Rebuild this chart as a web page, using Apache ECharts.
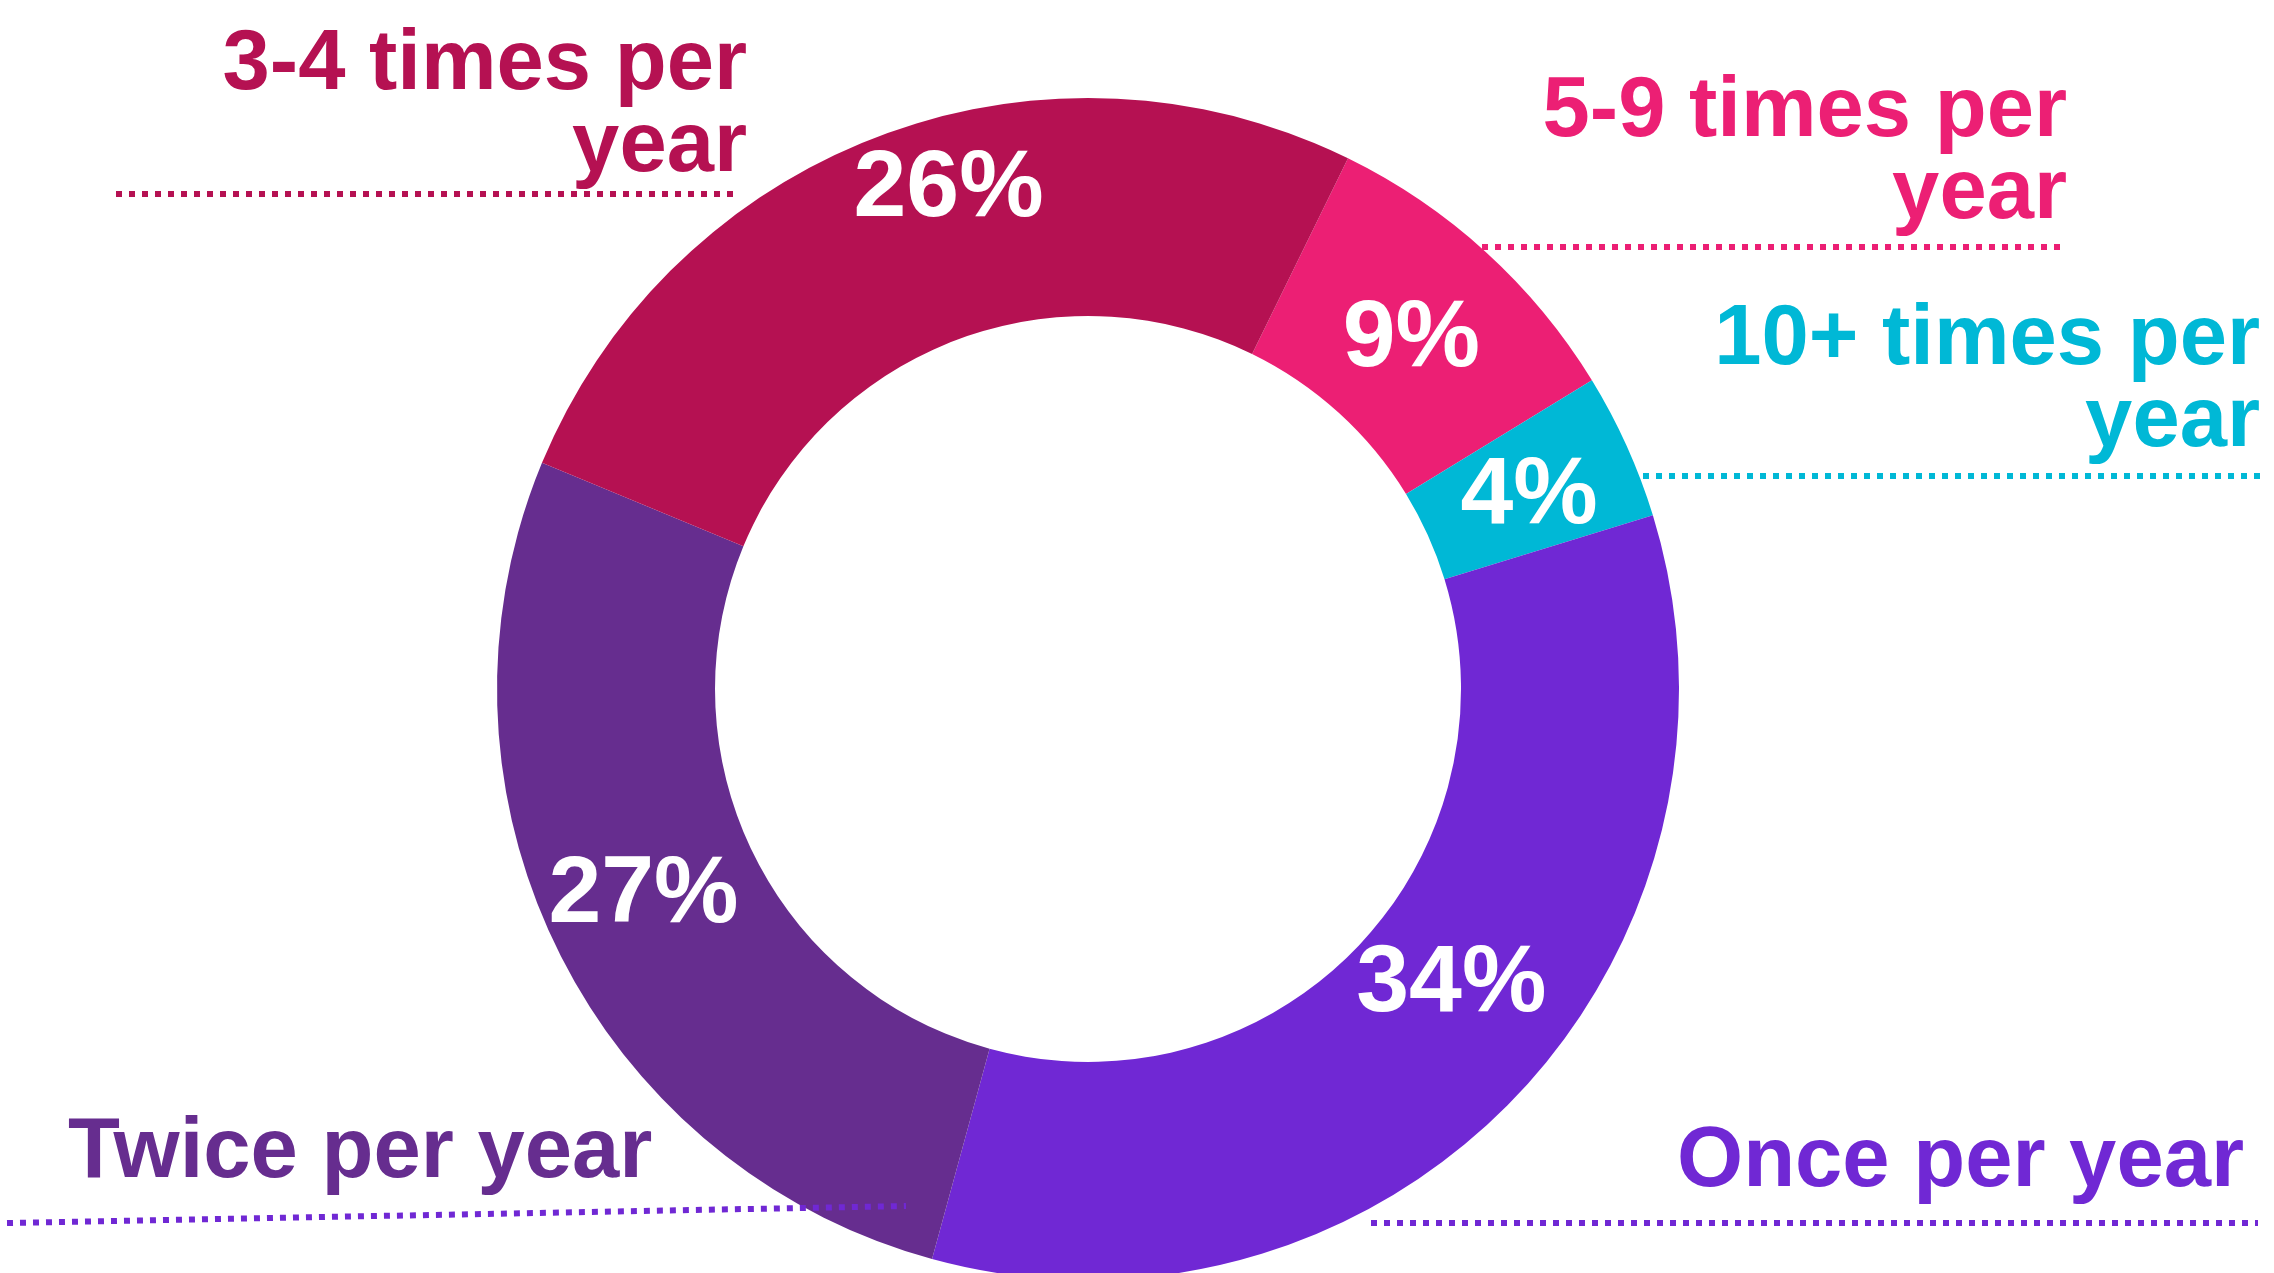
<!DOCTYPE html>
<html>
<head>
<meta charset="utf-8">
<style>
  html, body { margin: 0; padding: 0; background: #ffffff; }
  #chart { width: 2274px; height: 1273px; }
</style>
<script src="https://cdn.jsdelivr.net/npm/echarts@6/dist/echarts.min.js"></script>
</head>
<body>
<div id="chart"></div>
<script>
// Share of respondents by frequency, clockwise from the 5-9 slice
const categories = ['5-9 times per year', '10+ times per year', 'Once per year', 'Twice per year', '3-4 times per year'];
const categoryLabels = ['5-9 times per\nyear', '10+ times per\nyear', 'Once per year', 'Twice per year', '3-4 times per\nyear'];
const shares = [9, 4, 34, 27, 26];
const sliceColors = ['#EC1F74', '#00B8D6', '#7028D4', '#662D8F', '#B51152'];
const underlineColors = ['#EC1F74', '#00B8D6', '#7028D4', '#7028D4', '#B51152'];

// Nudges for the in-ring percentage labels
const valueLabelOffsets = [[-3, 10], [-1, 7], [15, -42], [-9, -7], [32, -46]];

// Placement of the outside category captions and their dotted rules
const captionLayout = [
  { x: 2067, y: 72,   align: 'right', rule: [1482, 247, 2061, 247] },
  { x: 2260, y: 300,  align: 'right', rule: [1643, 476, 2260, 476] },
  { x: 2244, y: 1122, align: 'right', rule: [1371, 1223, 2258, 1223] },
  { x: 68,   y: 1113, align: 'left',  rule: [7, 1223, 906, 1206] },
  { x: 747,  y: 25,   align: 'right', rule: [116, 194, 735, 194] }
];

const FONT = '"Liberation Sans Narrow", "Arial Narrow", "Liberation Sans", Arial, sans-serif';

const chart = echarts.init(document.getElementById('chart'), null, { renderer: 'canvas' });

const graphics = [];
categories.forEach(function (name, i) {
  const c = captionLayout[i];
  graphics.push({
    type: 'text',
    z: 100,
    x: c.x,
    y: c.y,
    style: {
      text: categoryLabels[i],
      fill: sliceColors[i],
      font: 'bold 85px ' + FONT,
      align: c.align,
      verticalAlign: 'top',
      lineHeight: 82
    }
  });
  graphics.push({
    type: 'line',
    z: 100,
    shape: { x1: c.rule[0], y1: c.rule[1], x2: c.rule[2], y2: c.rule[3] },
    style: {
      stroke: underlineColors[i],
      lineWidth: 6,
      lineDash: [6, 7]
    }
  });
});

chart.setOption({
  animation: false,
  backgroundColor: '#ffffff',
  graphic: graphics,
  series: [{
    type: 'pie',
    center: [1088, 689],
    radius: [373, 591],
    startAngle: 63.9,
    clockwise: true,
    avoidLabelOverlap: false,
    itemStyle: { borderWidth: 0 },
    label: {
      show: true,
      position: 'inside',
      formatter: function (p) { return p.value + '%'; },
      color: '#ffffff',
      fontFamily: FONT,
      fontWeight: 'bold',
      fontSize: 95
    },
    labelLine: { show: false },
    emphasis: { disabled: true },
    data: categories.map(function (name, i) {
      return {
        name: name,
        value: shares[i],
        itemStyle: { color: sliceColors[i] },
        label: { offset: valueLabelOffsets[i] }
      };
    })
  }]
});
</script>
</body>
</html>
